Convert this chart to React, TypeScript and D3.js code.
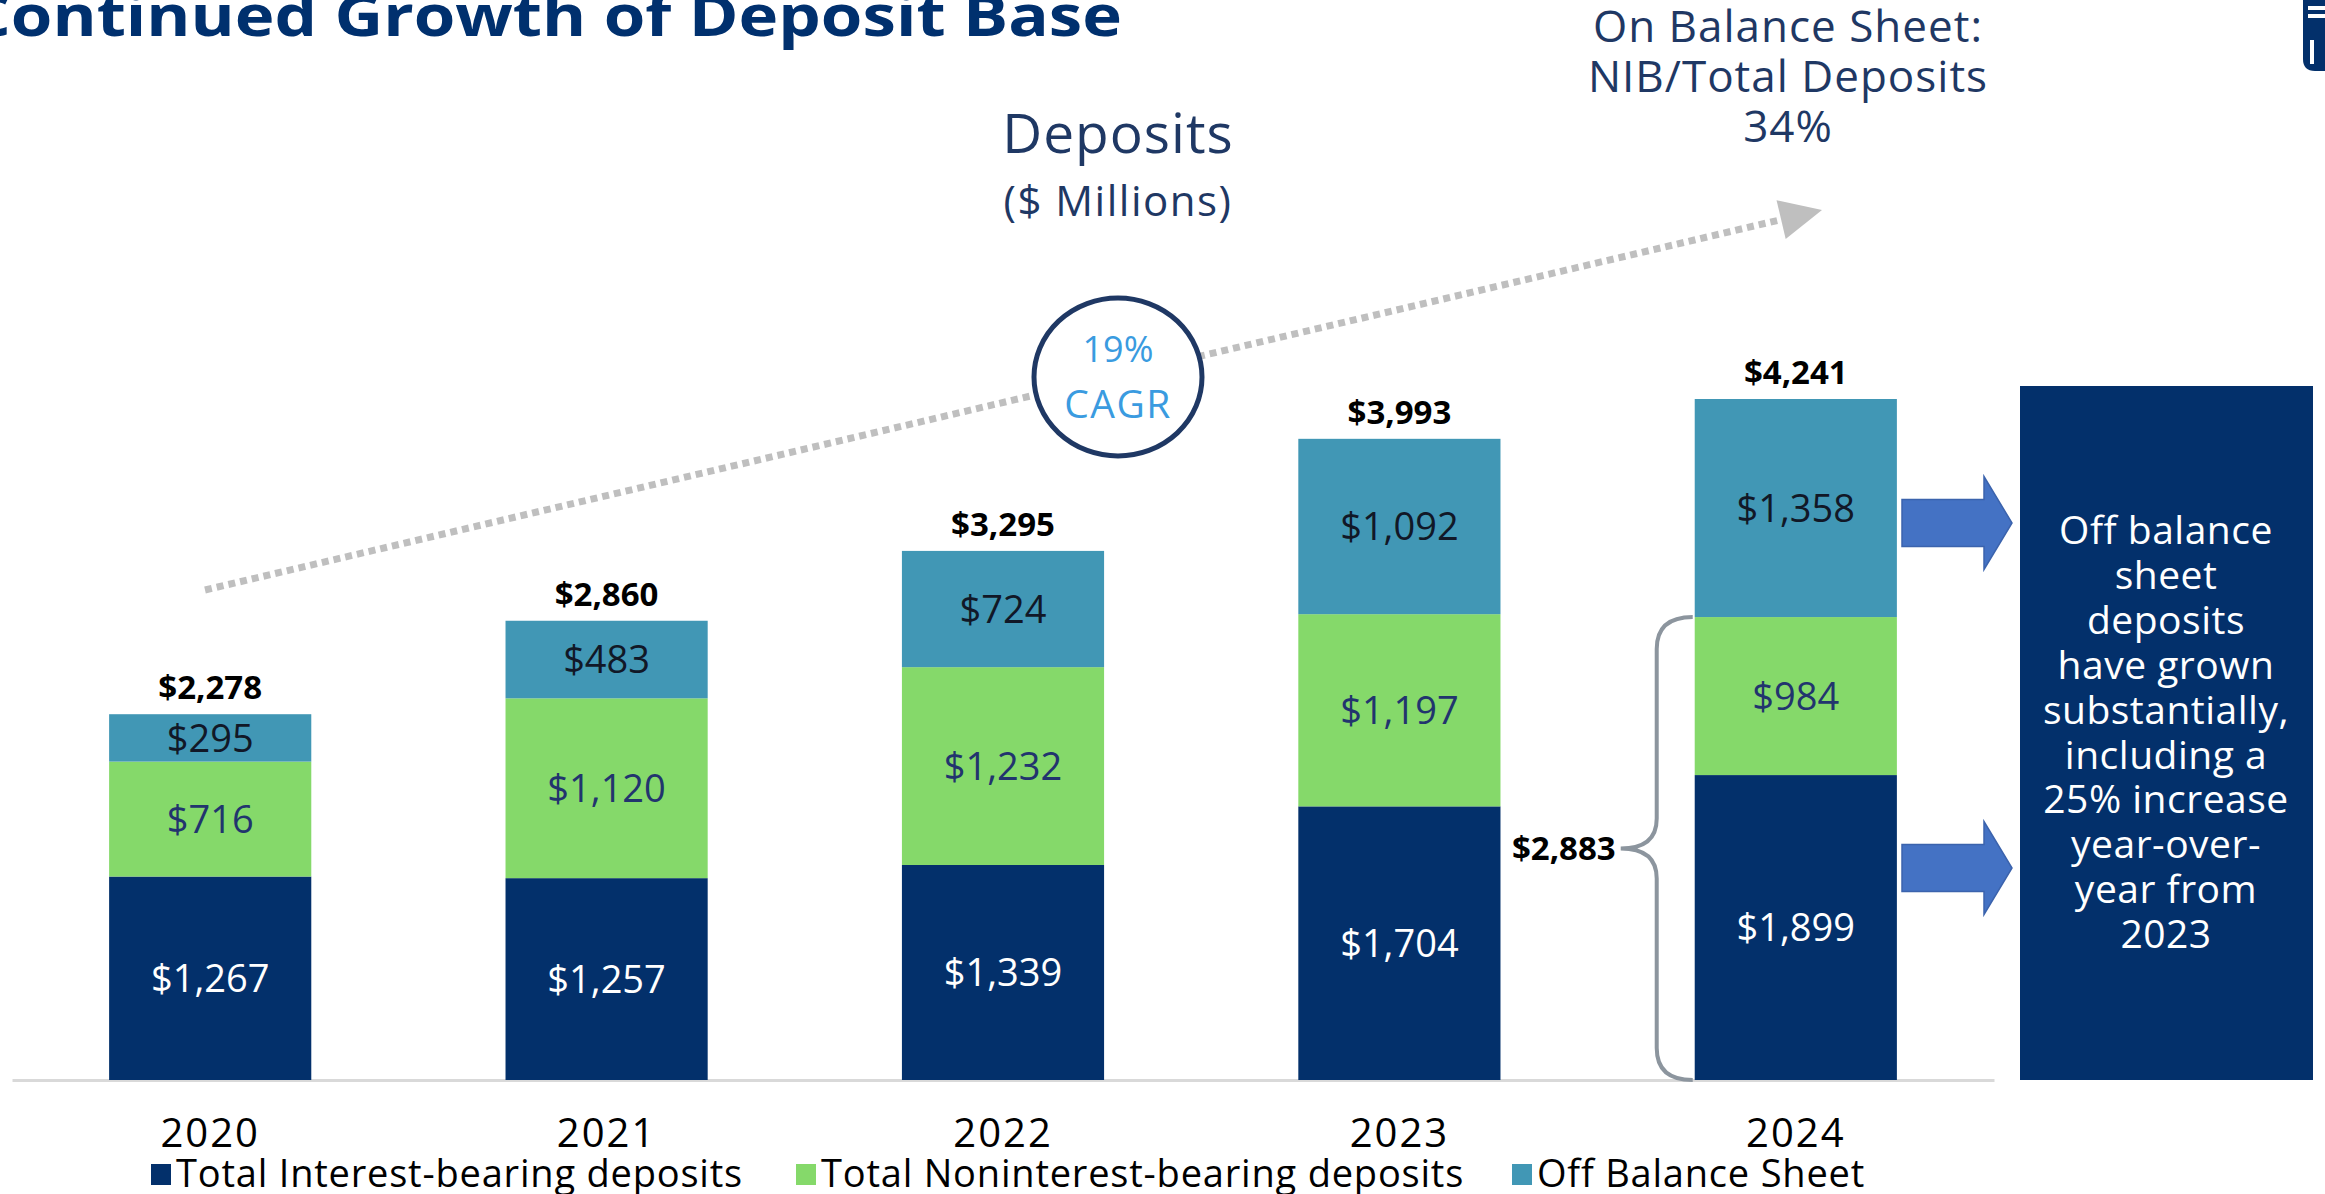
import React, { useEffect, useRef } from "react";
import * as d3 from "d3";

const years = ["2020", "2021", "2022", "2023", "2024"];
const interestBearing = [1267, 1257, 1339, 1704, 1899];
const nonInterestBearing = [716, 1120, 1232, 1197, 984];
const offBalance = [295, 483, 724, 1092, 1358];

const seriesNames = ["Total Interest-bearing deposits", "Total Noninterest-bearing deposits", "Off Balance Sheet"];
const noteLines = ["Off balance", "sheet", "deposits", "have grown", "substantially,", "including a", "25% increase", "year-over-", "year from", "2023"];

const W = 2325;
const H = 1194;
const FONT = "'Open Sans', 'Noto Sans', sans-serif";
const NAVY = "#03306b";
const GREEN = "#85d96a";
const TEAL = "#4197b5";
const TEXT_NAVY = "#1f3864";

const fmt = (v: number) => "$" + d3.format(",")(v);

const App = () => {
  const axisRef = useRef<SVGGElement>(null);

  const rows = years.map((y, i) => ({
    year: y,
    ib: interestBearing[i],
    nib: nonInterestBearing[i],
    off: offBalance[i],
  }));
  const keys = ["ib", "nib", "off"];
  const colors = [NAVY, GREEN, TEAL];
  const labelColors = ["#ffffff", "#22346e", "#111827"];
  const stacked = d3.stack<any>().keys(keys)(rows);
  const totals = rows.map((r) => r.ib + r.nib + r.off);

  const baseline = 1080;
  const x = d3.scaleBand().domain(years).range([12, 1994]).paddingInner(0.49).paddingOuter(0.245);
  const y = d3.scaleLinear().domain([0, d3.max(totals) as number]).range([baseline, 399]);

  useEffect(() => {
    const g = d3.select(axisRef.current);
    g.selectAll("*").remove();
    g.call(d3.axisBottom(x).tickSize(0).tickSizeOuter(0).tickPadding(39) as any);
    g.select(".domain").attr("stroke", "#d9d9d9").attr("stroke-width", 3);
    g.selectAll("text")
      .attr("font-family", FONT)
      .attr("font-size", 40)
      .attr("letter-spacing", 2)
      .attr("fill", "#000");
  }, []);

  // bracket around on-balance deposits of the last year
  const last = rows.length - 1;
  const bx = x(years[last]) as number;
  const onBal = rows[last].ib + rows[last].nib;
  const bTop = y(onBal);
  const bBot = y(0);
  const bMid = (bTop + bBot) / 2;
  const bp = d3.path();
  bp.moveTo(bx - 2, bTop);
  bp.quadraticCurveTo(bx - 38, bTop, bx - 38, bTop + 32);
  bp.lineTo(bx - 38, bMid - 30);
  bp.quadraticCurveTo(bx - 38, bMid, bx - 74, bMid);
  bp.quadraticCurveTo(bx - 38, bMid, bx - 38, bMid + 30);
  bp.lineTo(bx - 38, bBot - 32);
  bp.quadraticCurveTo(bx - 38, bBot, bx - 2, bBot);

  // dotted trend arrow
  const a0: [number, number] = [205, 590];
  const a1: [number, number] = [1822, 210];
  const ang = Math.atan2(a1[1] - a0[1], a1[0] - a0[0]);
  const headLen = 42;
  const headW = 20;
  const hb: [number, number] = [a1[0] - headLen * Math.cos(ang), a1[1] - headLen * Math.sin(ang)];
  const nx = -Math.sin(ang);
  const ny = Math.cos(ang);
  const head = [
    a1,
    [hb[0] + nx * headW, hb[1] + ny * headW],
    [hb[0] - nx * headW, hb[1] - ny * headW],
  ] as [number, number][];

  const blockArrow = (x0: number, cy: number) => {
    const shaftH = 47;
    const headH = 93;
    const x1 = x0 + 82;
    const x2 = x0 + 110;
    return `M${x0},${cy - shaftH / 2}H${x1}V${cy - headH / 2}L${x2},${cy}L${x1},${cy + headH / 2}V${cy + shaftH / 2}H${x0}Z`;
  };

  const legendX = [151, 796, 1512];

  return (
    <svg width={W} height={H} style={{ position: "absolute", left: 0, top: 0, background: "#fff" }} fontFamily={FONT}>
      <rect width={W} height={H} fill="#fff" />
      {/* title */}
      <text x={-32} y={36} fontSize={58} fontWeight={700} fill="#00306e" textLength={1154} lengthAdjust="spacingAndGlyphs">
        Continued Growth of Deposit Base
      </text>

      {/* logo corner */}
      <g>
        <path d="M2303,0H2325V71H2315Q2303,71,2303,59Z" fill={NAVY} />
        <rect x={2308} y={6} width={17} height={4} fill="#fff" />
        <rect x={2308} y={14} width={17} height={4} fill="#fff" />
        <rect x={2310} y={40} width={4} height={24} fill="#fff" />
      </g>

      {/* chart heading */}
      <text x={1118} y={153} textAnchor="middle" fontSize={55} letterSpacing={1} fill={TEXT_NAVY}>Deposits</text>
      <text x={1118} y={216} textAnchor="middle" fontSize={42} letterSpacing={1.5} fill={TEXT_NAVY}>($ Millions)</text>

      <g fontSize={44} letterSpacing={1} fill={TEXT_NAVY} textAnchor="middle">
        <text x={1788} y={42}>On Balance Sheet:</text>
        <text x={1788} y={92}>NIB/Total Deposits</text>
        <text x={1788} y={142}>34%</text>
      </g>

      {/* dotted trend arrow */}
      <line x1={a0[0]} y1={a0[1]} x2={hb[0]} y2={hb[1]} stroke="#bfbfbf" strokeWidth={7} strokeDasharray="7 5" />
      <polygon points={head.map((p) => p.join(",")).join(" ")} fill="#bfbfbf" />

      {/* CAGR bubble */}
      <ellipse cx={1118} cy={377} rx={84} ry={79} fill="#fff" stroke="#1f3864" strokeWidth={5} />
      <text x={1118} y={362} textAnchor="middle" fontSize={36} fill="#3a9be0">19%</text>
      <text x={1118} y={418} textAnchor="middle" fontSize={39} letterSpacing={1.5} fill="#3a9be0">CAGR</text>

      {/* axis */}
      <g ref={axisRef} transform={`translate(0,${baseline})`} />

      {/* stacked bars */}
      {stacked.map((s, si) => (
        <g key={s.key}>
          {s.map((d: any, i: number) => (
            <rect
              key={i}
              x={x(years[i])}
              y={y(d[1])}
              width={x.bandwidth()}
              height={y(d[0]) - y(d[1])}
              fill={colors[si]}
            />
          ))}
          {s.map((d: any, i: number) => (
            <text
              key={"t" + i}
              x={(x(years[i]) as number) + x.bandwidth() / 2}
              y={(y(d[0]) + y(d[1])) / 2}
              dy="0.36em"
              textAnchor="middle"
              fontSize={38}
              fill={labelColors[si]}
            >
              {fmt(d[1] - d[0])}
            </text>
          ))}
        </g>
      ))}

      {/* totals */}
      {totals.map((t, i) => (
        <text
          key={i}
          x={(x(years[i]) as number) + x.bandwidth() / 2}
          y={y(t) - 15}
          textAnchor="middle"
          fontSize={33}
          fontWeight={700}
          fill="#000"
        >
          {fmt(t)}
        </text>
      ))}

      {/* bracket */}
      <path d={bp.toString()} fill="none" stroke="#8c959e" strokeWidth={4} />
      <text x={bx - 79} y={bMid} dy="0.36em" textAnchor="end" fontSize={33} fontWeight={700} fill="#000">
        {fmt(onBal)}
      </text>

      {/* block arrows */}
      <path d={blockArrow(1902, 523)} fill="#4472c4" stroke="#3b63ad" strokeWidth={1.5} />
      <path d={blockArrow(1902, 868)} fill="#4472c4" stroke="#3b63ad" strokeWidth={1.5} />

      {/* note box */}
      <rect x={2020} y={386} width={293} height={baseline - 386} fill={NAVY} />
      <g fontSize={39} letterSpacing={0.5} fill="#fff" textAnchor="middle">
        {noteLines.map((l, i) => (
          <text key={i} x={2166} y={544 + i * 44.9}>{l}</text>
        ))}
      </g>

      {/* legend */}
      <g>
        {seriesNames.map((n, i) => (
          <g key={n}>
            <rect x={legendX[i]} y={1164} width={20} height={21} fill={colors[i]} />
            <text x={legendX[i] + 25} y={1187} fontSize={38} letterSpacing={0.8} fill="#000">{n}</text>
          </g>
        ))}
      </g>
    </svg>
  );
};

export default App;
